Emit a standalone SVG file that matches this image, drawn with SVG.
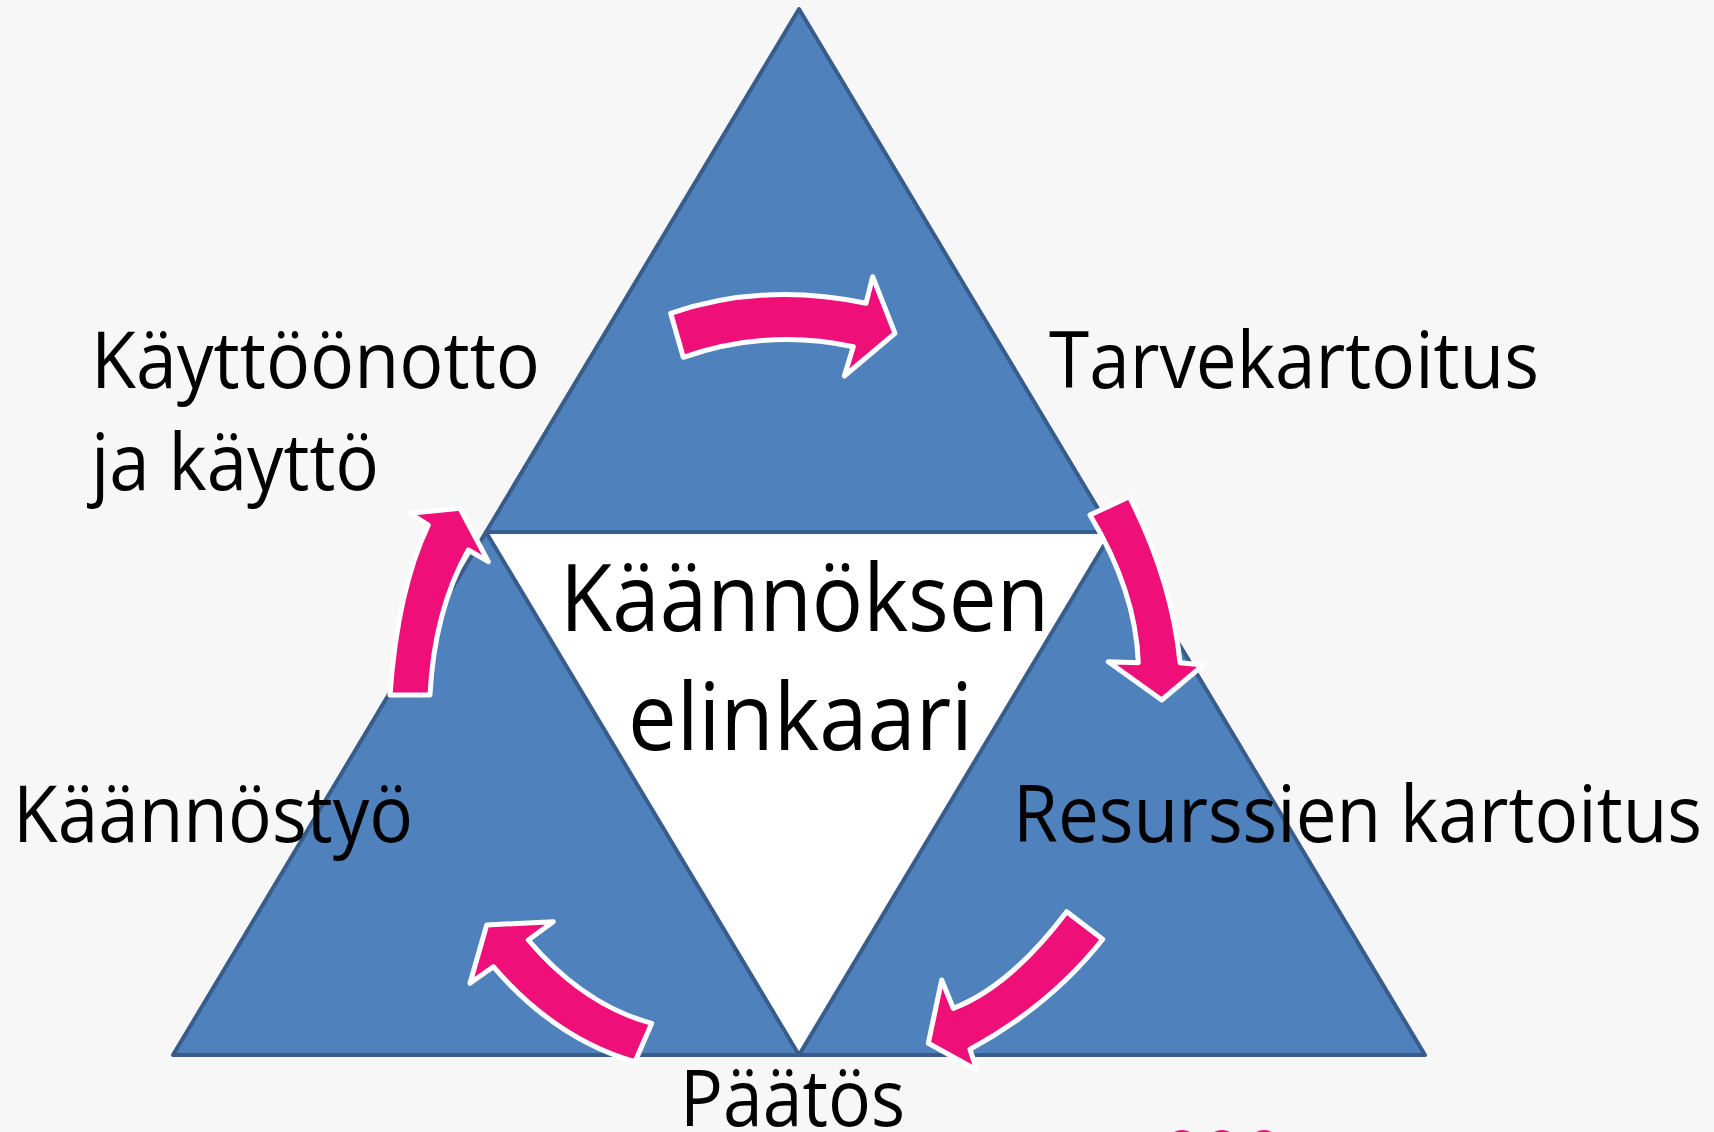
<svg xmlns="http://www.w3.org/2000/svg" width="1714" height="1132" viewBox="0 0 1714 1132">
<defs>
<style>
.tri{fill:#4F81BD;stroke:#385D8A;stroke-width:4;stroke-linejoin:round}
.arr{fill:#EF0F79;stroke:#FFFFFF;stroke-width:5;stroke-linejoin:round}
.lbl{font-family:"Open Sans","Noto Sans","Liberation Sans",sans-serif;font-size:78px;fill:#000000}
.big{font-size:94px}
</style>
</defs>
<rect x="0" y="0" width="1714" height="1132" fill="#F7F7F7"/>
<polygon points="486,532 1112,532 799,1055" fill="#FFFFFF"/>
<g id="triangles">
<polygon id="tri-top" class="tri" points="799,9 486,532 1112,532"/>
<polygon id="tri-left" class="tri" points="486,532 173,1055 799,1055"/>
<polygon id="tri-right" class="tri" points="1112,532 799,1055 1425,1055"/>
</g>
<g id="connectors">
<path id="arrow-top" class="arr" d="M670.7,313.3 Q763.6,281.7 866,303.3 L872.7,276.7 L895,333.3 L844.3,376 L853.3,346.7 Q768,328 683.3,357.3 Z"/>
<path id="arrow-right" class="arr" d="M1090,515 L1129.3,496.7 Q1172,580.3 1180,662.7 L1203.3,665 L1161.7,700 L1108.3,661.7 L1138.3,662.7 Q1135.8,591.1 1090,515 Z"/>
<path id="arrow-bottomright" class="arr" d="M1066.7,911.7 L1102.7,939.3 Q1050.3,1005.7 970,1049.3 L976.7,1070 L928.3,1043.3 L941.7,980 L953.3,1008.3 Q1010,986.7 1066.7,911.7 Z"/>
<path id="arrow-bottomleft" class="arr" d="M651.7,1023.3 L635,1061.7 Q555.8,1039.2 493.3,966.7 L470,983.3 L486.7,925 L553.3,921.7 L528.3,940 Q583.4,1004.9 651.7,1023.3 Z"/>
<path id="arrow-left" class="arr" d="M390,695 L430,695 Q434.2,610.9 468.3,550 L488.3,561.7 L460,508.3 L410,513.3 L428.3,525 Q397.4,590 390,695 Z"/>
</g>
<g id="node-kayttoonotto">
<text class="lbl" x="91" y="388" textLength="449" lengthAdjust="spacingAndGlyphs">Käyttöönotto</text>
<text class="lbl" x="91" y="490" textLength="288" lengthAdjust="spacingAndGlyphs">ja käyttö</text>
</g>
<g id="node-tarvekartoitus">
<text class="lbl" x="1049" y="388" textLength="490" lengthAdjust="spacingAndGlyphs">Tarvekartoitus</text>
</g>
<g id="node-center">
<text class="lbl big" x="560" y="631" textLength="489" lengthAdjust="spacingAndGlyphs">Käännöksen</text>
<text class="lbl big" x="628" y="750" textLength="345" lengthAdjust="spacingAndGlyphs">elinkaari</text>
</g>
<g id="node-kaannostyo">
<text class="lbl" x="13" y="842" textLength="400" lengthAdjust="spacingAndGlyphs">Käännöstyö</text>
</g>
<g id="node-resurssien">
<text class="lbl" x="1013" y="842" textLength="689" lengthAdjust="spacingAndGlyphs">Resurssien kartoitus</text>
</g>
<g id="node-paatos">
<text class="lbl" x="680" y="1126" textLength="225" lengthAdjust="spacingAndGlyphs">Päätös</text>
</g>
<g id="dots" fill="#EF0F79">
<circle cx="1182" cy="1146" r="16"/>
<circle cx="1222" cy="1146" r="16"/>
<circle cx="1264" cy="1146" r="16"/>
</g>
</svg>
